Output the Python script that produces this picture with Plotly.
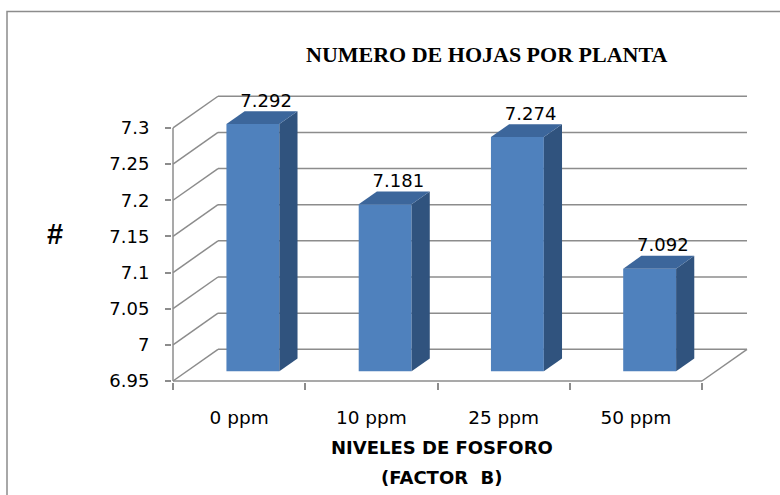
import plotly.graph_objects as go

# ---- data ----
categories = ["0 ppm", "10 ppm", "25 ppm", "50 ppm"]
values = [7.292, 7.181, 7.274, 7.092]
value_labels = ["7.292", "7.181", "7.274", "7.092"]
y_ticks = [6.95, 7.0, 7.05, 7.1, 7.15, 7.2, 7.25, 7.3]
y_tick_text = ["6.95", "7", "7.05", "7.1", "7.15", "7.2", "7.25", "7.3"]

# ---- geometry (pixels) ----
W, H = 780, 495
ML, MR, MT, MB = 172, 32, 95, 113
PLOT_W = W - ML - MR
PLOT_H = H - MT - MB
PX_PER_CAT = 132.25          # width of one category on the front edge
PX_PER_UNIT = 723.0          # vertical pixels per value unit
DEPTH_RIGHT_PX, DEPTH_UP_PX = 45.0, 31.7

DX = DEPTH_RIGHT_PX / PX_PER_CAT   # depth offset in x units
DY = DEPTH_UP_PX / PX_PER_UNIT     # depth offset in y units
BASE = y_ticks[0]
X_LEFT = -0.5
X_RIGHT = len(categories) - 0.5
x_range = [X_LEFT - 1 / PX_PER_CAT, X_LEFT - 1 / PX_PER_CAT + PLOT_W / PX_PER_CAT]
y_range = [BASE - 1 / PX_PER_UNIT, BASE - 1 / PX_PER_UNIT + PLOT_H / PX_PER_UNIT]

HALF_W = 0.2      # half bar width (category units)
F_FRONT = 0.306   # depth fraction of bar front face
F_BACK = 0.71     # depth fraction of bar back face

FRONT_COLOR = "#4f81bd"
TOP_COLOR = "#3c669b"
SIDE_COLOR = "#30537e"
GRID_COLOR = "#8c8c8c"
SANS = "DejaVu Sans"


def px_to_paper(px, py):
    return (px - ML) / PLOT_W, (H - MB - py) / PLOT_H


fig = go.Figure()
shapes = []


def wall_line(xa, ya, xb, yb):
    shapes.append(dict(type="line", xref="x", yref="y", x0=xa, y0=ya, x1=xb, y1=yb,
                       line=dict(color=GRID_COLOR, width=1.5), layer="below"))


# back wall gridlines and side-wall diagonals
for t in y_ticks:
    wall_line(X_LEFT + DX, t + DY, X_RIGHT + DX, t + DY)
    wall_line(X_LEFT, t, X_LEFT + DX, t + DY)
# floor front and right edges, front value axis
wall_line(X_LEFT, BASE, X_RIGHT, BASE)
wall_line(X_RIGHT, BASE, X_RIGHT + DX, BASE + DY)
wall_line(X_LEFT, BASE, X_LEFT, y_ticks[-1])

# front faces of the bars
xs = list(range(len(categories)))
fig.add_trace(go.Bar(
    x=[x + F_FRONT * DX for x in xs],
    y=[v - BASE for v in values],
    base=[BASE + F_FRONT * DY] * len(values),
    width=HALF_W * 2,
    marker=dict(color=FRONT_COLOR, line=dict(width=0)),
    hoverinfo="skip", showlegend=False,
))

# side and top faces
for x, v in zip(xs, values):
    r = x + HALF_W
    l = x - HALF_W
    side_x = [r + F_FRONT * DX, r + F_BACK * DX, r + F_BACK * DX, r + F_FRONT * DX, r + F_FRONT * DX]
    side_y = [BASE + F_FRONT * DY, BASE + F_BACK * DY, v + F_BACK * DY, v + F_FRONT * DY, BASE + F_FRONT * DY]
    fig.add_trace(go.Scatter(x=side_x, y=side_y, mode="lines", fill="toself",
                             fillcolor=SIDE_COLOR, line=dict(width=0, color=SIDE_COLOR),
                             hoverinfo="skip", showlegend=False))
    top_x = [l + F_FRONT * DX, r + F_FRONT * DX, r + F_BACK * DX, l + F_BACK * DX, l + F_FRONT * DX]
    top_y = [v + F_FRONT * DY, v + F_FRONT * DY, v + F_BACK * DY, v + F_BACK * DY, v + F_FRONT * DY]
    fig.add_trace(go.Scatter(x=top_x, y=top_y, mode="lines", fill="toself",
                             fillcolor=TOP_COLOR, line=dict(width=0, color=TOP_COLOR),
                             hoverinfo="skip", showlegend=False))

# value labels above each bar
fig.add_trace(go.Scatter(
    x=[x + 0.6 * DX for x in xs],
    y=[v + F_BACK * DY for v in values],
    mode="text", text=value_labels, textposition="top center",
    textfont=dict(family=SANS, size=18, color="#000000"),
    cliponaxis=False, hoverinfo="skip", showlegend=False,
))

# outer chart frame
fx0, fy0 = px_to_paper(7, 11.5)
fx1, fy1 = px_to_paper(W + 10, H + 10)
shapes.append(dict(type="rect", xref="paper", yref="paper", x0=fx0, y0=fy1, x1=fx1, y1=fy0,
                   line=dict(color=GRID_COLOR, width=1.5), fillcolor="rgba(0,0,0,0)", layer="above"))

annotations = []


def text_at(text, px, py, family, size):
    ax, ay = px_to_paper(px, py)
    annotations.append(dict(text=text, x=ax, y=ay, xref="paper", yref="paper",
                            showarrow=False, xanchor="center", yanchor="middle",
                            font=dict(family=family, size=size, color="#000000")))


text_at("<b>NUMERO DE HOJAS POR PLANTA</b>", 486, 54, "Liberation Serif", 22)
text_at("<b>#</b>", 54.5, 234, "Liberation Sans", 29)
text_at("<b>NIVELES DE FOSFORO</b>", 442, 448, SANS, 18)
text_at("<b>(FACTOR&nbsp;&nbsp;B)</b>", 442, 477, SANS, 18)

fig.update_layout(
    width=W, height=H,
    margin=dict(l=ML, r=MR, t=MT, b=MB, pad=0),
    paper_bgcolor="white", plot_bgcolor="white",
    shapes=shapes, annotations=annotations,
    showlegend=False,
    xaxis=dict(range=x_range, showgrid=False, zeroline=False, showline=False,
               tickmode="array", tickvals=xs, ticktext=categories, ticks="",
               tickfont=dict(family=SANS, size=18.5, color="#000000"),
               ticklabelstandoff=22,
               minor=dict(tickmode="array", tickvals=[i - 0.5 for i in range(len(categories) + 1)],
                          ticks="outside", ticklen=7, tickcolor=GRID_COLOR, tickwidth=1.5, showgrid=False)),
    yaxis=dict(range=y_range, showgrid=False, zeroline=False, showline=False,
               tickmode="array", tickvals=y_ticks, ticktext=y_tick_text,
               ticks="outside", ticklen=6, tickcolor=GRID_COLOR, tickwidth=1.5,
               tickfont=dict(family=SANS, size=18, color="#000000"),
               ticklabelstandoff=12),
)

fig.write_html("out.html")
